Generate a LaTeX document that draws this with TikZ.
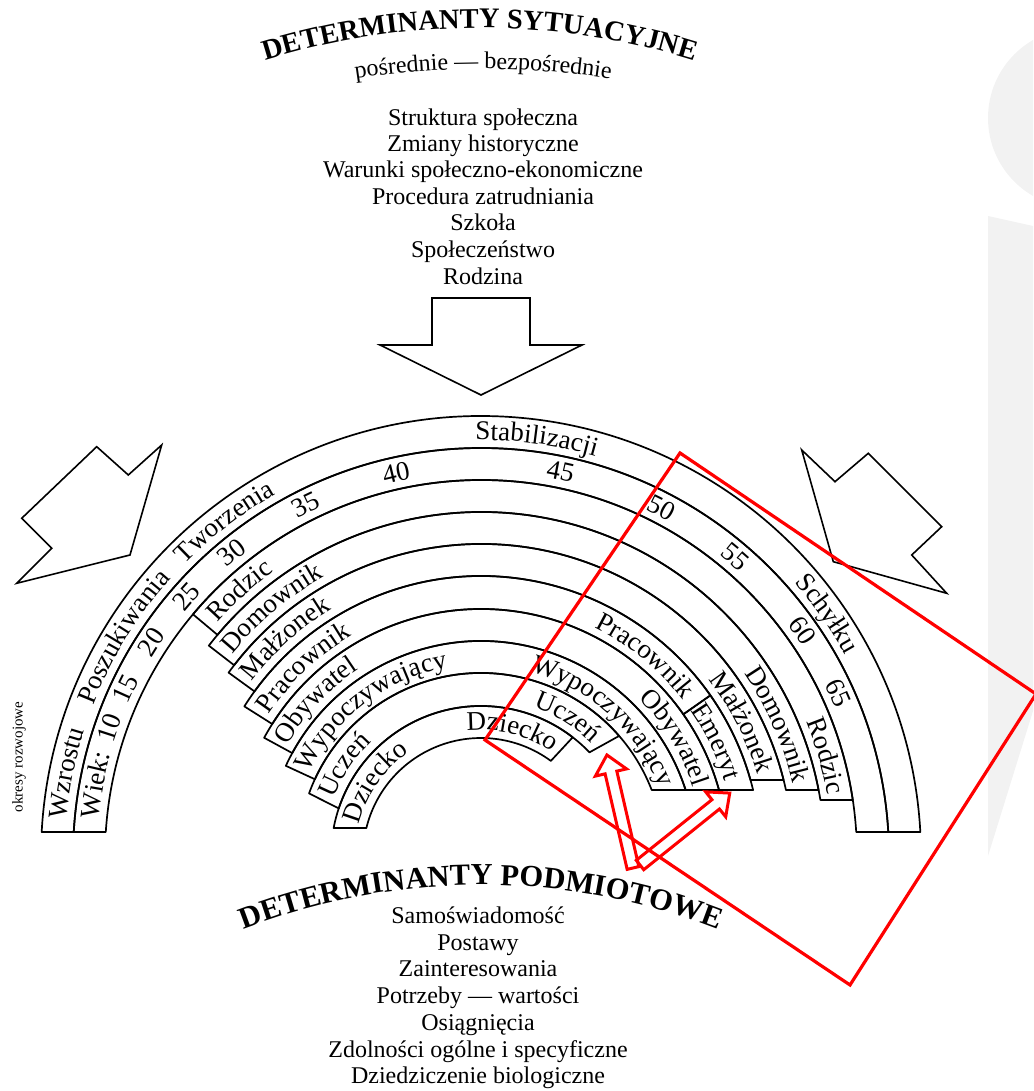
\documentclass[tikz,border=0pt]{standalone}
\usepackage{fontspec}
\setmainfont{Liberation Serif}
\usetikzlibrary{calc,decorations.text}
\newcommand\bandfont{\fontsize{27}{27}\selectfont}
\newcommand\listfont{\fontsize{24}{26}\selectfont}
\newcommand\titleAfont{\fontsize{28.5}{29}\selectfont\bfseries}
\newcommand\titleBfont{\fontsize{30.5}{31}\selectfont\bfseries}
\newcommand\subfont{\fontsize{24}{24}\selectfont}
\tikzset{
  band/.style={draw=black, line width=1.7pt, line join=round},
  blockarrow/.style={draw=black, line width=1.6pt, line join=miter},
  listtext/.style={font=\listfont, anchor=base, inner sep=0pt},
  redline/.style={draw=red, line width=3.2pt, line join=miter},
  redarrow/.style={draw=red, line width=3pt, line join=miter},
  smudge/.style={fill=black!5, draw=none},
}
% annular sector: rout, rin, outer start, outer end, inner end, inner start
\newcommand\drawring[6]{%
  \draw[band] ($(C)+({#3}:#1)$) arc[start angle={#3}, end angle={#4}, radius=#1]
     -- ($(C)+({#5}:#2)$) arc[start angle={#5}, end angle={#6}, radius=#2] -- cycle;}
\newcommand\labC[3]{%
  \path[decorate,decoration={text along path,text align=center,text={|\bandfont|#3}}]
    ($(C)+({#2+40}:#1)$) arc[start angle={#2+40},end angle={#2-40},radius=#1];}
\newcommand\labL[3]{%
  \path[decorate,decoration={text along path,text align=left,text={|\bandfont|#3}}]
    ($(C)+({#2}:#1)$) arc[start angle={#2},end angle={#2-90},radius=#1];}
\newcommand\labR[3]{%
  \path[decorate,decoration={text along path,text align=right,text={|\bandfont|#3}}]
    ($(C)+({#2+90}:#1)$) arc[start angle={#2+90},end angle={#2},radius=#1];}
\begin{document}
\begin{tikzpicture}[x=1pt,y=1pt]
\useasboundingbox (0,0) rectangle (1033,1091);
% faint background smudges at the right edge
\begin{scope}
  \clip (0,0) rectangle (1033,1091);
  \fill[smudge] (1078,973) circle[radius=90];
  \fill[smudge] (988,875) -- (1033,865) -- (1033,380) -- (988,235) -- cycle;
\end{scope}
\coordinate (C) at (481,235);
\coordinate (T1) at (480,343);
\coordinate (T2) at (481,-449);
\coordinate (T3) at (483,172);

% ---- titles ----
\path[decorate,decoration={text along path,text align=center,text={|\titleAfont|DETERMINANTY SYTUACYJNE}}]
  ($(T1)+(115:720)$) arc[start angle=115,end angle=65,radius=720];
\path[decorate,decoration={text along path,text align=center,text={|\subfont|pośrednie — bezpośrednie}}]
  ($(T3)+(110:850)$) arc[start angle=110,end angle=70,radius=850];
\path[decorate,decoration={text along path,text align=center,text={|\titleBfont|DETERMINANTY PODMIOTOWE}}]
  ($(T2)+(115:655)$) arc[start angle=115,end angle=65,radius=655];

% ---- upper list ----
\node[listtext] (h1) at (483,965) {Struktura społeczna};
\node[listtext] (h2) at (483,939) {Zmiany historyczne};
\node[listtext] (h3) at (483,913) {Warunki społeczno-ekonomiczne};
\node[listtext] (h4) at (483,886) {Procedura zatrudniania};
\node[listtext] (h5) at (483,860) {Szkoła};
\node[listtext] (h6) at (483,833) {Społeczeństwo};
\node[listtext] (h7) at (483,806) {Rodzina};

% ---- lower list ----
\node[listtext] (b1) at (478,167) {Samoświadomość};
\node[listtext] (b2) at (478,140) {Postawy};
\node[listtext] (b3) at (478,114) {Zainteresowania};
\node[listtext] (b4) at (478,87) {Potrzeby — wartości};
\node[listtext] (b5) at (478,60) {Osiągnięcia};
\node[listtext] (b6) at (478,33) {Zdolności ogólne i specyficzne};
\node[listtext] (b7) at (478,7) {Dziedziczenie biologiczne};

% ---- block arrows ----
\draw[blockarrow] (432,793) -- (530,793) -- (530,746) -- (582,746) -- (481,696)
   -- (380,746) -- (432,746) -- cycle;
\draw[blockarrow] (96.7,644.3) -- (128.3,616) -- (161.7,646) -- (130,536)
   -- (16.7,507.7) -- (51.7,542.7) -- (21.7,572.7) -- cycle;
\draw[blockarrow] (801.7,641) -- (835,609.3) -- (868.3,637.7) -- (941.7,564.3)
   -- (911.7,536) -- (946.7,497.7) -- (833.3,529.3) -- cycle;

% ---- rainbow bands ----
\drawring{440}{408}{180-asin(24/440)}{asin(24/440)}{asin(24/408)}{180-asin(24/408)}
\drawring{408}{376}{180-asin(24/408)}{asin(24/408)}{asin(24/376)}{180-asin(24/376)}
\drawring{376}{344}{140}{asin(56/376)}{asin(56/344)}{140}
\drawring{344}{312}{142.3}{asin(66/344)}{asin(66/312)}{142.3}
\drawring{312}{280}{144}{asin(76/312)}{asin(76/280)}{144}
\drawring{280}{247}{147.7}{35}{35}{147.7}
\drawring{280}{247}{35}{asin(66/280)}{asin(66/247)}{35}
\drawring{247}{215}{151.4}{asin(66/247)}{asin(66/215)}{151.4}
\drawring{215}{183}{155.2}{asin(66/215)}{asin(66/183)}{155.2}
\drawring{183}{150}{160}{41}{43.7}{161.5}
\drawring{150}{118}{180-asin(28/150)}{52.3}{53.7}{180-asin(28/118)}

% ---- life stages ----
\labL{416}{175}{Wzrostu}
\labC{416}{148.5}{Poszukiwania}
\labC{416}{127.5}{Tworzenia}
\labC{416}{82.4}{Stabilizacji}
\labC{416}{35}{Schyłku}
% ---- ages ----
\labL{384}{174.5}{Wiek:}
\labC{384}{161}{10}
\labC{384}{154.8}{15}
\labC{384}{147}{20}
\labC{384}{138.6}{25}
\labC{384}{129.4}{30}
\labC{384}{116.6}{35}
\labC{384}{102.5}{40}
\labC{384}{78.3}{45}
\labC{384}{62.6}{50}
\labC{384}{49.6}{55}
\labC{384}{35}{60}
\labC{384}{24.5}{65}
% ---- roles, left ----
\labL{352}{138.5}{Rodzic}
\labL{320}{141}{Domownik}
\labL{288}{142.7}{Małżonek}
\labL{255}{146.3}{Pracownik}
\labL{223}{150.2}{Obywatel}
\labL{191}{154}{Wypoczywający}
\labL{158}{158.8}{Uczeń}
\labL{126}{165.5}{Dziecko}
% ---- roles, right ----
\labR{352}{10}{Rodzic}
\labR{320}{13}{Domownik}
\labR{288}{16.4}{Małżonek}
\labR{255}{37.7}{Pracownik}
\labR{255}{17}{Emeryt}
\labR{223}{18}{Obywatel}
\labR{191}{21}{Wypoczywający}
\labR{158}{45.5}{Uczeń}
\labR{126}{55.5}{Dziecko}

\node[font=\fontsize{15}{15}\selectfont, rotate=90, inner sep=0pt] (okr) at (19,334) {okresy rozwojowe};

% ---- red annotations ----
\draw[redline] (680,638) -- (1036,397) -- (850,106) -- (485,351) -- cycle;
\begin{scope}[shift={(633,223)}, rotate=103]
  \draw[redarrow] (0,-6) -- (98,-6) -- (98,-16) -- (116,0) -- (98,16) -- (98,6) -- (0,6) -- cycle;
\end{scope}
\begin{scope}[shift={(640,226)}, rotate=38.7]
  \draw[redarrow] (0,-6) -- (97,-6) -- (97,-16) -- (115,0) -- (97,16) -- (97,6) -- (0,6) -- cycle;
\end{scope}
\end{tikzpicture}
\end{document}
